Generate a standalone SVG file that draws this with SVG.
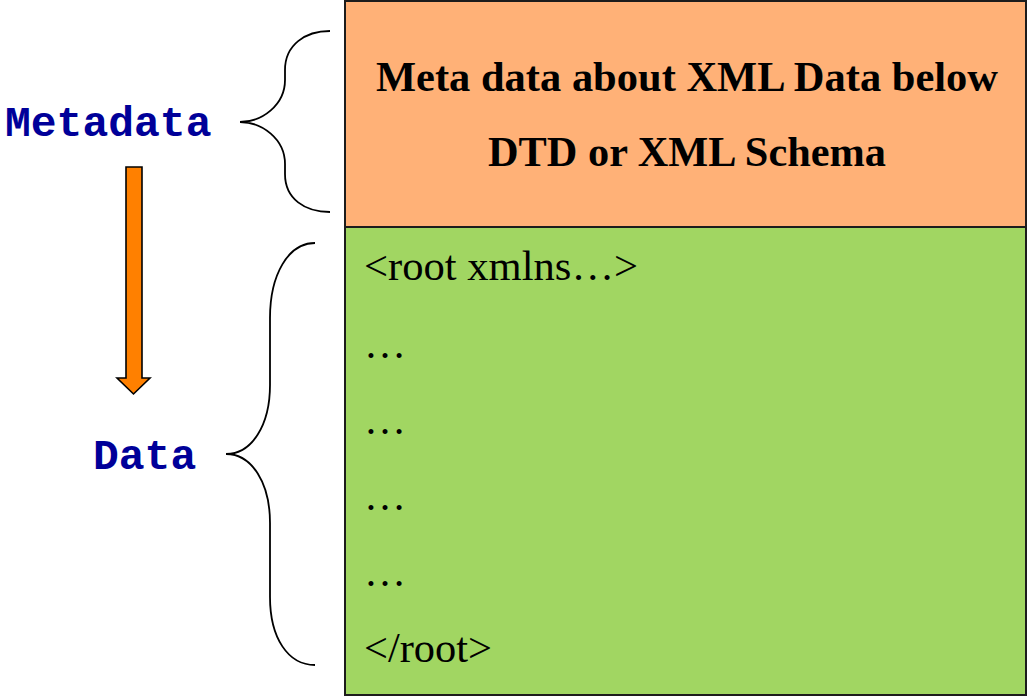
<svg xmlns="http://www.w3.org/2000/svg" width="1027" height="696" viewBox="0 0 1027 696">
  <style>
    .box { stroke: #1c1c1c; stroke-width: 2; }
    .brace { fill: none; stroke: #000; stroke-width: 1.8; }
    .label { font-family: "Liberation Mono", "Courier New", monospace; font-weight: bold; font-size: 43px; fill: #000099; }
    .head { font-family: "Liberation Serif", "Times New Roman", serif; font-weight: bold; font-size: 43px; fill: #000; text-anchor: middle; }
    .code { font-family: "Liberation Serif", "Times New Roman", serif; font-size: 42px; fill: #000; }
  </style>
  <rect width="1027" height="696" fill="#ffffff"/>

  <g id="metadata-box">
    <rect class="box" x="345" y="1" width="681" height="226" fill="#FFB177"/>
    <text class="head" x="687" y="91" textLength="622" lengthAdjust="spacingAndGlyphs">Meta data about XML Data below</text>
    <text class="head" x="687" y="166" textLength="398" lengthAdjust="spacingAndGlyphs">DTD or XML Schema</text>
  </g>

  <g id="data-box">
    <rect class="box" x="345" y="227" width="681" height="468" fill="#A1D662"/>
    <text class="code" x="364" y="280" textLength="274" lengthAdjust="spacingAndGlyphs">&lt;root xmlns…&gt;</text>
    <text class="code" x="364" y="358">…</text>
    <text class="code" x="364" y="434">…</text>
    <text class="code" x="364" y="510">…</text>
    <text class="code" x="364" y="586">…</text>
    <text class="code" x="364" y="662" textLength="128" lengthAdjust="spacingAndGlyphs">&lt;/root&gt;</text>
  </g>

  <g id="metadata-label">
    <text class="label" x="5" y="136">Metadata</text>
  </g>

  <g id="data-label">
    <text class="label" x="93" y="469">Data</text>
  </g>

  <g id="connectors">
    <path class="brace" d="M330,31 C305,31 285,45 285,70 L285,80 C285,105 262,122 240,122 C262,122 285,139 285,164 L285,174 C285,199 305,212 330,212"/>
    <path class="brace" d="M315,243 C288,243 270,275 270,318 L270,385 C270,425 252,454 226,454 C252,454 270,483 270,523 L270,597 C270,638 288,665 315,665"/>
    <path d="M126,167 L142,167 L142,378 L150,378 L133.5,394 L117,378 L126,378 Z" fill="#FF8000" stroke="#000" stroke-width="1.6" stroke-linejoin="miter"/>
  </g>
</svg>
